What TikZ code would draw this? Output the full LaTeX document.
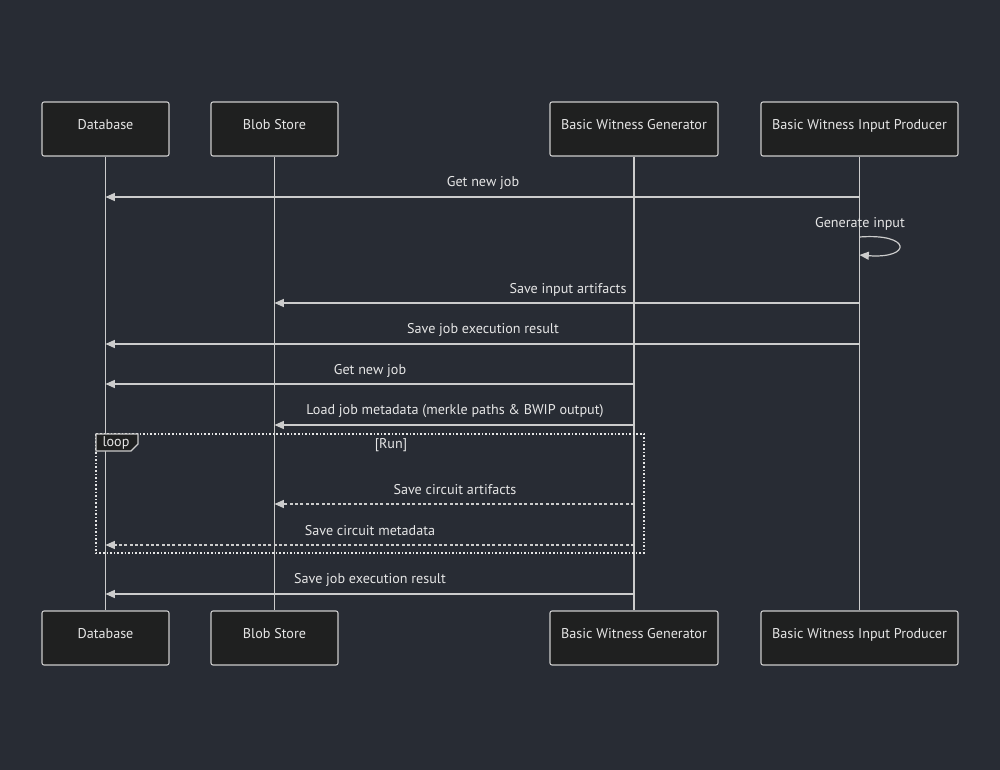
\documentclass[tikz,border=0pt]{standalone}
\usepackage{fontspec}
\setmainfont{PT Sans}
\usetikzlibrary{arrows.meta}
\definecolor{bg}{HTML}{282C34}
\definecolor{boxfill}{HTML}{1F2020}
\definecolor{ln}{HTML}{CCCCCC}
\definecolor{tx}{HTML}{E6E6E6}
\begin{document}
\begin{tikzpicture}[x=0.75pt,y=-0.75pt,
  actor/.style={draw=ln,fill=boxfill,rounded corners=1.5pt,line width=0.8pt,minimum height=54*0.75pt,inner sep=0pt,text=tx,font=\fontsize{10.6}{12}\selectfont,text height=7pt,text depth=6pt},
  life/.style={draw=ln,line width=0.9pt},
  msg/.style={draw=ln,line width=0.9pt,-{Triangle[length=7pt,width=6pt]}},
  dmsg/.style={msg,dash pattern=on 2.2pt off 1.8pt},
  lbl/.style={text=tx,font=\fontsize{10.6}{12}\selectfont,inner sep=1pt}]
\useasboundingbox (0,0) rectangle (1000,770);
\fill[bg] (0,0) rectangle (1000,770);
% actors
\node[actor,minimum width=127*0.75pt] (dbT) at (105.5,129) {Database};
\node[actor,minimum width=127*0.75pt] (blobT) at (274.5,129) {Blob Store};
\node[actor,minimum width=168*0.75pt] (bwgT) at (634,129) {Basic Witness Generator};
\node[actor,minimum width=197*0.75pt] (bwipT) at (859.5,129) {Basic Witness Input Producer};
\node[actor,minimum width=127*0.75pt] (dbB) at (105.5,638) {Database};
\node[actor,minimum width=127*0.75pt] (blobB) at (274.5,638) {Blob Store};
\node[actor,minimum width=168*0.75pt] (bwgB) at (634,638) {Basic Witness Generator};
\node[actor,minimum width=197*0.75pt] (bwipB) at (859.5,638) {Basic Witness Input Producer};
% lifelines
\draw[life] (dbT) -- (dbB);
\draw[life] (blobT) -- (blobB);
\draw[life] (bwgT) -- (bwgB);
\draw[life] (bwipT) -- (bwipB);
% loop frame
\draw[draw=tx,line width=1.1pt,dash pattern=on 1.2pt off 1.5pt] (96,434) rectangle (644,553);
\draw[draw=ln,fill=boxfill,line width=0.8pt] (96,434) -- (138,434) -- (138,444) -- (131,451) -- (96,451) -- cycle;
\node[lbl] (looplbl) at (116,443) {loop};
\node[lbl] (runlbl) at (391,445) {[Run]};
% coordinates on lifelines
\coordinate (a1) at (859.5,197); \coordinate (b1) at (105.5,197);
\coordinate (a3) at (859.5,303); \coordinate (b3) at (274.5,303);
\coordinate (a4) at (859.5,344); \coordinate (b4) at (105.5,344);
\coordinate (a5) at (634,384);   \coordinate (b5) at (105.5,384);
\coordinate (a6) at (634,425);   \coordinate (b6) at (274.5,425);
\coordinate (a7) at (634,504);   \coordinate (b7) at (274.5,504);
\coordinate (a8) at (634,545);   \coordinate (b8) at (105.5,545);
\coordinate (a9) at (634,594);   \coordinate (b9) at (105.5,594);
\coordinate (s2) at (859.5,237); \coordinate (e2) at (859.5,255);
% messages
\draw[msg] (a1) -- (b1);
\node[lbl] (l1) at (483,182.5) {Get new job};
\node[lbl] (l2) at (860,223.5) {Generate input};
\draw[msg] (s2) .. controls (912,233) and (912,259) .. (e2);
\draw[msg] (a3) -- (b3);
\node[lbl] (l3) at (568,289.5) {Save input artifacts};
\draw[msg] (a4) -- (b4);
\node[lbl] (l4) at (483,329.5) {Save job execution result};
\draw[msg] (a5) -- (b5);
\node[lbl] (l5) at (370,370.5) {Get new job};
\draw[msg] (a6) -- (b6);
\node[lbl] (l6) at (455,411.5) {Load job metadata (merkle paths \& BWIP output)};
\draw[dmsg] (a7) -- (b7);
\node[lbl] (l7) at (455,489.5) {Save circuit artifacts};
\draw[dmsg] (a8) -- (b8);
\node[lbl] (l8) at (370,530.5) {Save circuit metadata};
\draw[msg] (a9) -- (b9);
\node[lbl] (l9) at (370,579.5) {Save job execution result};
\end{tikzpicture}
\end{document}
